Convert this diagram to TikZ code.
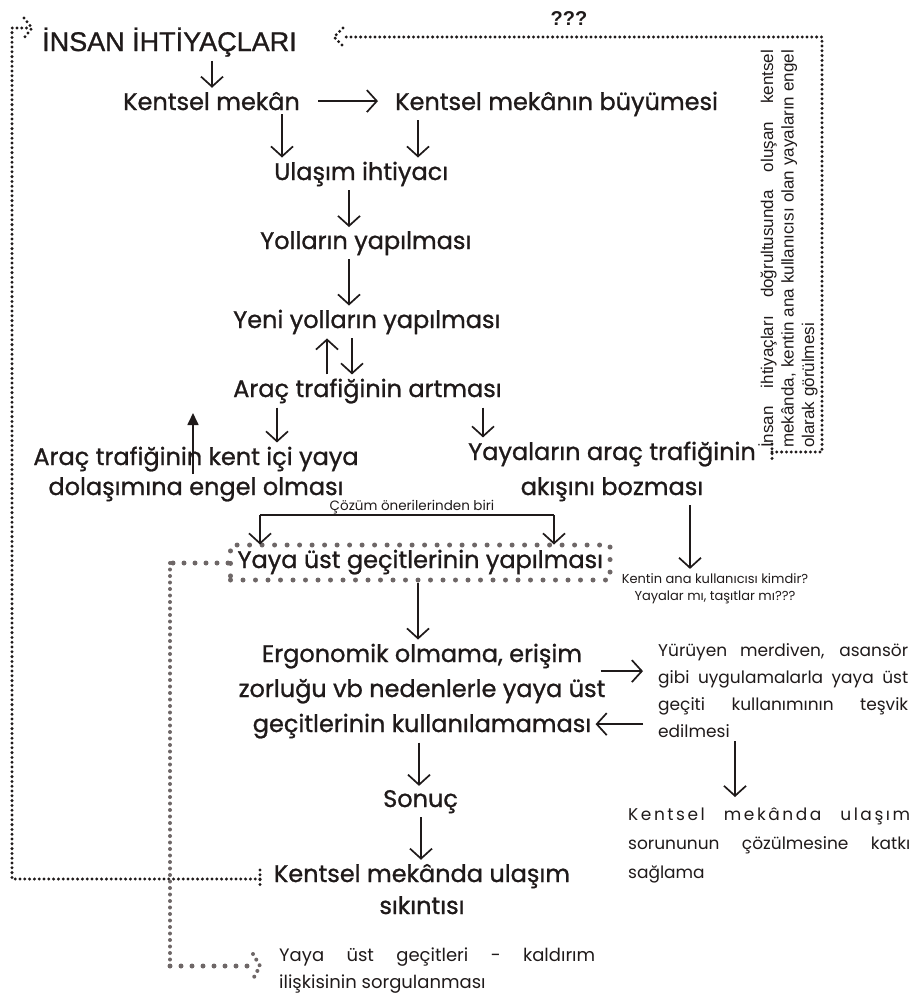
\documentclass[tikz,border=0pt]{standalone}
\usepackage{fontspec}
\setmainfont{Poppins}
\newfontfamily\popm{Poppins}[FakeBold=1]
\newfontfamily\helvm{Liberation Sans}[FakeBold=1]
\newfontfamily\helv{Liberation Sans}
\usetikzlibrary{arrows.meta}
\definecolor{ink}{HTML}{1F1A1A}
\definecolor{dotgray}{HTML}{6E6767}
\newcommand{\jl}[2]{\makebox[#1][s]{#2}}
\begin{document}
\begin{tikzpicture}[x=1pt,y=-1pt,
  every node/.style={inner sep=0pt,text=ink},
  mainf/.style={font=\popm\fontsize{24}{35}\selectfont,align=center,anchor=base},
  mainw/.style={font=\popm\fontsize{24}{35}\selectfont,anchor=base west},
  titlef/.style={font=\helvm\fontsize{27}{30}\selectfont,anchor=base west},
  qf/.style={font=\helv\bfseries\fontsize{20}{24}\selectfont,anchor=base},
  smallf/.style={font=\fontsize{13.5}{17.5}\selectfont,align=center,anchor=base},
  sidef/.style={font=\fontsize{17}{27}\selectfont,align=left,anchor=base west},
  vertf/.style={font=\helv\fontsize{17}{20.5}\selectfont,align=left,anchor=base west,rotate=90},
  gboxnode/.style={draw=dotgray,line width=5pt,dash pattern=on 0pt off 12.5pt,line cap=round,
     inner xsep=7pt,inner ysep=7pt,text height=16pt,text depth=5pt},
  arr/.style={draw=ink,line width=1.7pt,-{Straight Barb[length=10pt,width=22pt]},shorten <=4pt,shorten >=4pt},
  farr/.style={draw=ink,line width=1.7pt,-{Triangle[length=12pt,width=11pt]}},
  ln/.style={draw=ink,line width=1.7pt},
  bdot/.style={draw=ink,line width=3.3pt,dash pattern=on 0pt off 4.8pt,line cap=round},
  gdoth/.style={draw=dotgray,line width=5pt,dash pattern=on 0pt off 11pt,line cap=round},
  gdotv/.style={draw=dotgray,line width=4pt,dash pattern=on 0pt off 6.5pt,line cap=round}
]
\useasboundingbox (0,0) rectangle (914,996);

% nodes
\node[titlef] (title) at (42,51) {İNSAN İHTİYAÇLARI};
\node[qf] (qqq) at (569,25) {???};
\node[mainw] (mekan) at (123,110) {Kentsel mekân};
\node[mainw] (buyume) at (395,110) {Kentsel mekânın büyümesi};
\node[mainw] (ulasim) at (274,180) {Ulaşım ihtiyacı};
\node[mainw] (yollar) at (260,249) {Yolların yapılması};
\node[mainw] (yeni) at (233,328) {Yeni yolların yapılması};
\node[mainw] (arac) at (233,397) {Araç trafiğinin artması};
\node[mainf,font=\popm\fontsize{24}{30}\selectfont] (engel) at (196,495) {Araç trafiğinin kent içi yaya\\dolaşımına engel olması};
\node[mainf] (bozma) at (612,495) {Yayaların araç trafiğinin\\akışını bozması};
\node[smallf] (cozum) at (412,510) {Çözüm önerilerinden biri};
\node[mainw,gboxnode] (ustgecit) at (228,568) {Yaya üst geçitlerinin yapılması};
\node[smallf,font=\fontsize{13}{17}\selectfont] (kimdir) at (715,600) {Kentin ana kullanıcısı kimdir?\\Yayalar mı, taşıtlar mı???};
\node[mainf] (ergo) at (422,732) {Ergonomik olmama, erişim\\zorluğu vb nedenlerle yaya üst\\geçitlerinin kullanılamaması};
\node[sidef] (tesvik) at (658,737) {\jl{250pt}{Yürüyen merdiven, asansör}\\\jl{250pt}{gibi uygulamalarla yaya üst}\\\jl{250pt}{geçiti kullanımının teşvik}\\edilmesi};
\node[mainw] (sonuc) at (383,807) {Sonuç};
\node[sidef,font=\fontsize{17}{29}\selectfont] (katki) at (628,878) {\jl{282pt}{\addfontfeature{LetterSpace=15}Kentsel mekânda ulaşım}\\\jl{282pt}{sorununun çözülmesine katkı}\\sağlama};
\node[mainf,font=\popm\fontsize{24}{32}\selectfont] (sikinti) at (422,914) {Kentsel mekânda ulaşım\\sıkıntısı};
\node[sidef,font=\fontsize{18}{27}\selectfont] (sorgu) at (279,988) {\jl{316pt}{Yaya üst geçitleri - kaldırım}\\ilişkisinin sorgulanması};
\node[vertf] (vtext) at (814,448) {\jl{398pt}{İnsan ihtiyaçları doğrultusunda oluşan kentsel}\\\jl{398pt}{mekânda, kentin ana kullanıcısı olan yayaların engel}\\olarak görülmesi};

% arrows
\draw[arr] ([xshift=170pt]title.south west) -- ([xshift=170pt]title.south west |- mekan.north);
\draw[arr,shorten <=18pt,shorten >=17pt] (mekan.east) -- (mekan.east -| buyume.west);
\draw[arr] ([xshift=159pt]mekan.south west) -- ([xshift=159pt]mekan.south west |- ulasim.north);
\draw[arr] ([xshift=23pt]buyume.south west) -- ([xshift=23pt]buyume.south west |- ulasim.north);
\draw[arr] ([xshift=75pt]ulasim.south west) -- ([xshift=75pt]ulasim.south west |- yollar.north);
\draw[arr] ([xshift=89pt]yollar.south west) -- ([xshift=89pt]yollar.south west |- yeni.north);
\draw[arr] ([xshift=94pt]arac.north west) -- ([xshift=94pt]arac.north west |- yeni.south);
\draw[arr] ([xshift=119pt]yeni.south west) -- ([xshift=119pt]yeni.south west |- arac.north);
\draw[arr] ([xshift=44pt]arac.south west) -- ([xshift=44pt]arac.south west |- engel.north);
\draw[arr] ([xshift=250pt]arac.south west) -- ([xshift=250pt]arac.south west |- bozma.north);
\coordinate (upTip) at (193,413);
\draw[farr] (upTip |- engel.center) -- (upTip);
\coordinate (brL) at (260,515);
\coordinate (brR) at (554,515);
\draw[ln] (brL) -- (brR);
\draw[arr,shorten <=0pt,shorten >=-2pt] (brL) -- (brL |- ustgecit.north);
\draw[arr,shorten <=0pt,shorten >=-2pt] (brR) -- (brR |- ustgecit.north);
\draw[arr] ([xshift=78pt]bozma.south) -- ([xshift=78pt]bozma.south |- kimdir.north);
\draw[arr,shorten <=0pt] ([xshift=190pt]ustgecit.south west) -- ([xshift=190pt]ustgecit.south west |- ergo.north);
\draw[arr,shorten <=-5pt,shorten >=15pt] ([yshift=20pt]ergo.east) -- ([yshift=20pt]ergo.east -| tesvik.west);
\draw[arr,shorten <=15pt,shorten >=-10pt] ([yshift=-33pt]ergo.east -| tesvik.west) -- ([yshift=-33pt]ergo.east);
\draw[arr,shorten >=10pt] ([xshift=77pt]tesvik.south west) -- ([xshift=77pt]tesvik.south west |- katki.north);
\draw[arr] ([xshift=-3pt]ergo.south) -- ([xshift=-3pt]ergo.south |- sonuc.north);
\draw[arr] ([xshift=38pt]sonuc.south west) -- ([xshift=38pt]sonuc.south west |- sikinti.north);

% black dotted feedback: pedestrians -> human needs (top/right)
\coordinate (rb1) at (772,444);
\coordinate (rb2) at (772,461);
\coordinate (rs) at (772,452);
\coordinate (rc1) at (822,452);
\coordinate (rc2) at (822,37);
\coordinate (rt) at (342,37);
\draw[bdot] (rb1) -- (rb2);
\draw[bdot] (rs) -- (rc1) -- (rc2) -- (rt);
\draw[bdot] (343,28) -- (334,37) -- (343,46);

% black dotted feedback: transport problem -> human needs (left)
\coordinate (lb1) at (260,870);
\coordinate (lb2) at (260,889);
\coordinate (ls) at (260,879);
\coordinate (lc1) at (12,879);
\coordinate (lc2) at (12,28);
\coordinate (lt) at (30,28);
\draw[bdot] (lb1) -- (lb2);
\draw[bdot] (ls) -- (lc1) -- (lc2) -- (lt);
\draw[bdot] (24,18) -- (32,28) -- (24,38);

% grey dotted: over-pass -> sidewalk relation
\coordinate (gc1) at (170,563);
\coordinate (gc2) at (170,966);
\coordinate (ge) at (252,966);
\draw[gdoth] (ustgecit.west |- gc1) -- (gc1);
\draw[gdotv] (gc1) -- (gc2);
\draw[gdoth] (gc2) -- (ge);
\draw[gdotv] (253,954) -- (260,966) -- (253,979);
\end{tikzpicture}
\end{document}
